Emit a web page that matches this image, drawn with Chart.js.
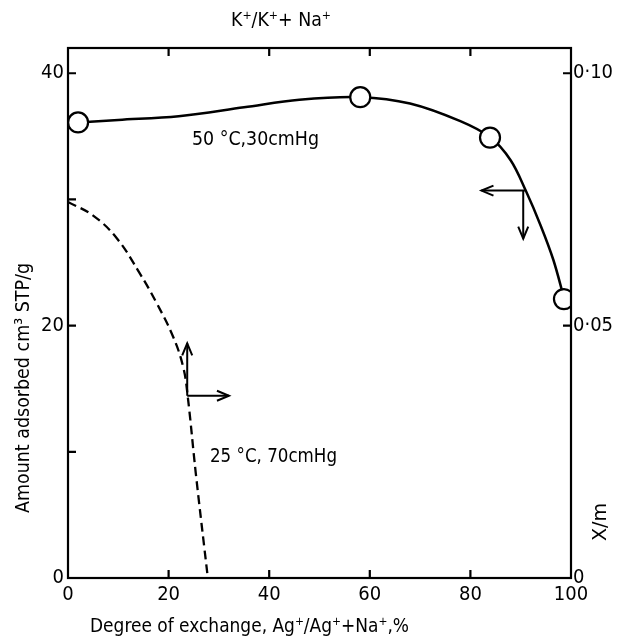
<!DOCTYPE html>
<html>
<head>
<meta charset="utf-8">
<script src="https://cdn.jsdelivr.net/npm/chart.js@4/dist/chart.umd.min.js"></script>
<style>
  html, body { margin: 0; padding: 0; background: #fff; }
  #wrap { width: 618px; height: 640px; position: relative; }
</style>
</head>
<body>
<div id="wrap"><canvas id="c" width="618" height="640"></canvas></div>
<script>
// ---- data ----
const curve50X = [2, 10, 22, 35, 46, 58.1, 68, 78, 84, 88, 91, 94, 96.5, 98.6];
const curve50Y = [36.1, 36.3, 36.6, 37.3, 37.9, 38.1, 37.6, 36.2, 34.9, 33.1, 30.7, 27.9, 25.2, 22.2];
const points50X = [2, 58.1, 83.9, 98.6];
const points50Y = [36.1, 38.1, 34.9, 22.1];
const curve25X = [0, 5, 9.7, 14.3, 17.6, 20.9, 22.9, 23.8, 25.4, 27.8];
const curve25Y = [0.0745, 0.0718, 0.0673, 0.0603, 0.0545, 0.0478, 0.0418, 0.0360, 0.0208, 0];
const xTickValues = [0, 20, 40, 60, 80, 100];
const xTickLabels = ['0', '20', '40', '60', '80', '100'];
const yTickValues = [0, 10, 20, 30, 40];
const yTickLabels = ['0', '', '20', '', '40'];
const y1TickValues = [0, 0.05, 0.10];
const y1TickLabels = ['0', '0\u00B705', '0\u00B710'];
const titleTop = 'K\u207A/K\u207A+ Na\u207A';
const xTitle = 'Degree of exchange, Ag\u207A/Ag\u207A+Na\u207A,%';
const yTitle = 'Amount adsorbed cm\u00B3 STP/g';
const y1Title = 'X/m';
const label50 = '50 \u00B0C,30cmHg';
const label25 = '25 \u00B0C, 70cmHg';
// arrow annotations: corner (x, y on the given axis), arrow ends
const arrow50 = { x: 90.9, y: 30.7, toX: 82.2, toY: 26.9 };
const arrow25 = { x: 23.7, y: 14.44, toX: 32, toY: 18.6 };

const FONT = "'DejaVu Sans Condensed', 'Liberation Sans Narrow', 'DejaVu Sans', sans-serif";

function toXY(xs, ys) { return xs.map((v, i) => ({ x: v, y: ys[i] })); }

function drawArrowHead(ctx, x, y, dx, dy) {
  const len = 12, w = 5;
  const n = Math.hypot(dx, dy); const ux = dx / n, uy = dy / n;
  ctx.beginPath();
  ctx.moveTo(x - ux * len + uy * w, y - uy * len - ux * w);
  ctx.lineTo(x, y);
  ctx.lineTo(x - ux * len - uy * w, y - uy * len + ux * w);
  ctx.stroke();
}

// draw text compressed horizontally to a given width
function fitText(ctx, text, x, y, size, width, align, rot) {
  ctx.save();
  ctx.font = size + 'px ' + FONT;
  ctx.textBaseline = 'middle';
  ctx.textAlign = 'left';
  const w = ctx.measureText(text).width;
  const s = width / w;
  ctx.translate(x, y);
  if (rot) ctx.rotate(rot);
  ctx.scale(s, 1);
  const start = align === 'center' ? -w / 2 : 0;
  ctx.fillText(text, start, 0);
  ctx.restore();
}

const decor = {
  id: 'decor',
  afterDatasetsDraw(chart) {
    const { ctx, chartArea: a, scales } = chart;
    const x = scales.x, y = scales.y, y1 = scales.y1;
    ctx.save();
    ctx.strokeStyle = '#000';
    ctx.fillStyle = '#000';
    ctx.lineWidth = 2.2;
    ctx.strokeRect(a.left, a.top, a.right - a.left, a.bottom - a.top);
    const tl = 8;
    ctx.beginPath();
    xTickValues.forEach(v => {
      if (v === 0 || v === 100) return;
      const px = x.getPixelForValue(v);
      ctx.moveTo(px, a.bottom); ctx.lineTo(px, a.bottom - tl);
      ctx.moveTo(px, a.top); ctx.lineTo(px, a.top + tl);
    });
    yTickValues.forEach(v => {
      if (v === 0) return;
      const py = y.getPixelForValue(v);
      ctx.moveTo(a.left, py); ctx.lineTo(a.left + tl, py);
    });
    y1TickValues.forEach(v => {
      if (v === 0) return;
      const py = y1.getPixelForValue(v);
      ctx.moveTo(a.right, py); ctx.lineTo(a.right - tl, py);
    });
    ctx.stroke();

    // arrows
    ctx.lineWidth = 2;
    let cx = x.getPixelForValue(arrow50.x), cy = y.getPixelForValue(arrow50.y);
    let ex = x.getPixelForValue(arrow50.toX), ey = y.getPixelForValue(arrow50.toY);
    ctx.beginPath(); ctx.moveTo(cx, cy); ctx.lineTo(ex, cy);
    ctx.moveTo(cx - 2, cy); ctx.lineTo(cx - 2, ey); ctx.stroke();
    drawArrowHead(ctx, ex, cy, -1, 0);
    drawArrowHead(ctx, cx - 2, ey, 0, 1);
    cx = x.getPixelForValue(arrow25.x); cy = y.getPixelForValue(arrow25.y);
    ex = x.getPixelForValue(arrow25.toX); ey = y.getPixelForValue(arrow25.toY);
    ctx.beginPath(); ctx.moveTo(cx, cy); ctx.lineTo(ex, cy);
    ctx.moveTo(cx, cy); ctx.lineTo(cx, ey); ctx.stroke();
    drawArrowHead(ctx, ex, cy, 1, 0);
    drawArrowHead(ctx, cx, ey, 0, -1);

    // texts
    fitText(ctx, label50, 192, 140, 20, 127, 'left');
    fitText(ctx, label25, 210, 457, 20, 127, 'left');
    fitText(ctx, titleTop, 281, 21, 20, 100, 'center');
    fitText(ctx, xTitle, 90, 627, 20, 319, 'left');
    fitText(ctx, yTitle, 24, 388, 20, 250, 'center', -Math.PI / 2);
    fitText(ctx, y1Title, 601, 522, 20, 38, 'center', -Math.PI / 2);
    ctx.restore();
  }
};

function setTicks(values) {
  return function (scale) { scale.ticks = values.map(v => ({ value: v })); };
}

const tickFont = { family: FONT, size: 20 };

new Chart(document.getElementById('c'), {
  type: 'line',
  data: {
    datasets: [
      {
        label: '50C points', data: toXY(points50X, points50Y), yAxisID: 'y',
        showLine: false, pointRadius: 10, pointBackgroundColor: '#fff',
        pointBorderColor: '#000', pointBorderWidth: 2.2, order: 0, clip: 0
      },
      {
        label: '50C, 30cmHg', data: toXY(curve50X, curve50Y), yAxisID: 'y',
        borderColor: '#000', borderWidth: 2.5, pointRadius: 0,
        tension: 0.35, order: 1
      },
      {
        label: '25C, 70cmHg', data: toXY(curve25X, curve25Y), yAxisID: 'y1',
        borderColor: '#000', borderWidth: 2.3, borderDash: [9, 5], pointRadius: 0,
        tension: 0.4, order: 2
      }
    ]
  },
  options: {
    responsive: false,
    animation: false,
    layout: { padding: { top: 48, left: 0, right: 0, bottom: 0 } },
    plugins: { legend: { display: false }, tooltip: { enabled: false } },
    scales: {
      x: {
        type: 'linear', min: 0, max: 100,
        afterBuildTicks: setTicks(xTickValues),
        afterFit(s) { s.height = 62; },
        grid: { display: false, drawTicks: false }, border: { display: false },
        ticks: {
          padding: 5, color: '#000', font: tickFont,
          maxRotation: 0, autoSkip: false,
          callback: (v, i) => xTickLabels[i]
        }
      },
      y: {
        type: 'linear', position: 'left', min: 0, max: 42,
        afterBuildTicks: setTicks(yTickValues),
        afterFit(s) { s.width = 68; },
        grid: { display: false, drawTicks: false }, border: { display: false },
        ticks: {
          padding: 4, color: '#000', font: tickFont, autoSkip: false,
          callback: (v, i) => yTickLabels[i]
        }
      },
      y1: {
        type: 'linear', position: 'right', min: 0, max: 0.105,
        afterBuildTicks: setTicks(y1TickValues),
        afterFit(s) { s.width = 47; },
        grid: { display: false, drawTicks: false }, border: { display: false },
        ticks: {
          padding: 2, color: '#000', font: tickFont, autoSkip: false,
          callback: (v, i) => y1TickLabels[i]
        }
      }
    }
  },
  plugins: [decor]
});
</script>
</body>
</html>
